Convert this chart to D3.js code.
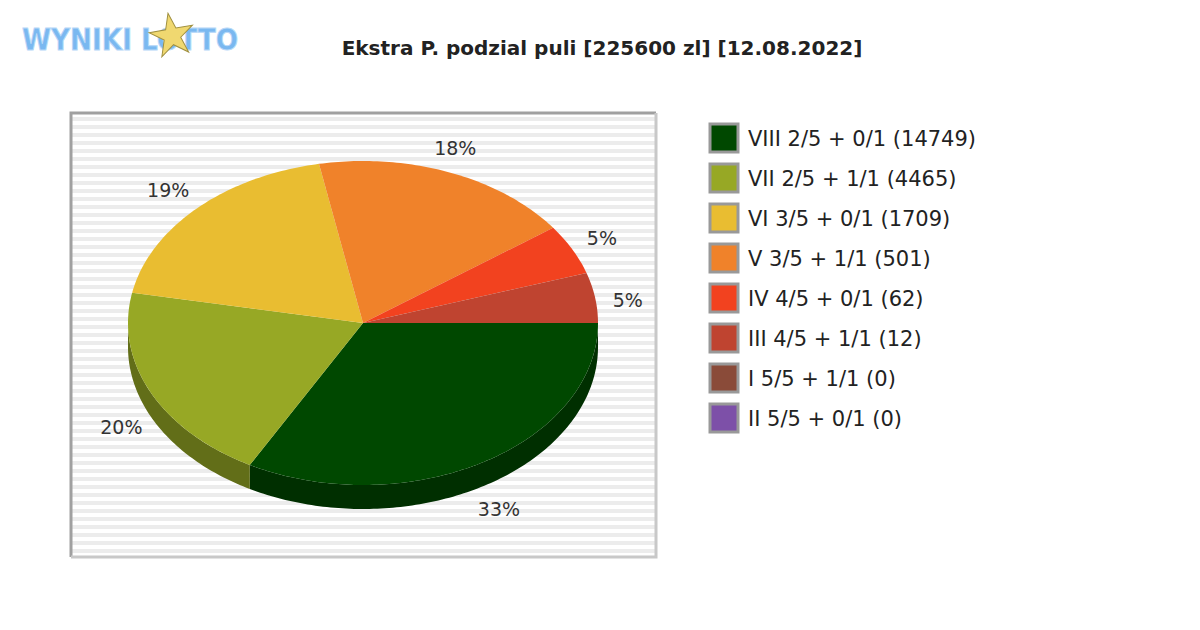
<!DOCTYPE html>
<html><head><meta charset="utf-8">
<script src="https://cdn.jsdelivr.net/npm/d3@7"></script>
<style>body{margin:0;background:#fff}</style></head>
<body><svg id="c" width="1200" height="630"></svg>
<script>
const categories=["VIII 2/5 + 0/1 (14749)","VII 2/5 + 1/1 (4465)","VI 3/5 + 0/1 (1709)","V 3/5 + 1/1 (501)","IV 4/5 + 0/1 (62)","III 4/5 + 1/1 (12)","I 5/5 + 1/1 (0)","II 5/5 + 0/1 (0)"];
const shares=[33,20,19,18,5,5,0,0];
const colors=["#004800","#97a825","#e9bd31","#f0822a","#f2421f","#bf4430","#8a4b39","#7d50a8"];
const title="Ekstra P. podzial puli [225600 zl] [12.08.2022]";

const svg=d3.select("#c");
const F="DejaVu Sans";
const lg=svg.append("g");
lg.append("text").attr("x",22).attr("y",50).attr("font-family",F).attr("font-weight","bold").attr("font-size",30)
 .attr("fill","#7ab8f0").attr("stroke","#b8d8f8").attr("stroke-width",1).attr("textLength",216).attr("lengthAdjust","spacingAndGlyphs").text("WYNIKI LOTTO");
lg.append("path").attr("d",d3.symbol(d3.symbolStar,600)()).attr("transform","translate(172,36) rotate(-10)").attr("fill","#f0d870").attr("stroke","#a09040");
svg.append("text").attr("x",602).attr("y",55).attr("text-anchor","middle").attr("font-family",F).attr("font-weight","bold").attr("font-size",20).attr("fill","#222").text(title);
const x0=71,y0=113,x1=656,y1=557;
svg.append("rect").attr("x",x0).attr("y",y0).attr("width",x1-x0).attr("height",y1-y0).attr("fill","#fff");
for(let y=y0+4;y<y1;y+=8) svg.append("rect").attr("x",x0).attr("y",y).attr("width",x1-x0).attr("height",4).attr("fill","#ececec");
svg.append("path").attr("d",`M${x0},${y1}V${y0}H${x1}`).attr("fill","none").attr("stroke","#a0a0a0").attr("stroke-width",3);
svg.append("path").attr("d",`M${x1},${y0}V${y1}H${x0}`).attr("fill","none").attr("stroke","#c8c8c8").attr("stroke-width",3);

const cx=363,cy=323,rx=235,ry=162,depth=24;
const pie=d3.pie().sort(null).startAngle(0).endAngle(2*Math.PI)(shares);
const P=(t,dy=0)=>[cx+rx*Math.cos(t),cy+ry*Math.sin(t)+dy];
function arcPts(a,b,dy){const n=Math.max(2,Math.ceil((b-a)*60));return d3.range(n+1).map(i=>P(a+(b-a)*i/n,dy));}
const g=svg.append("g");
pie.forEach((d,i)=>{
  const a=Math.max(d.startAngle,0),b=Math.min(d.endAngle,Math.PI);
  if(b<=a) return;
  const top=arcPts(a,b,0),bot=arcPts(a,b,depth).reverse();
  g.append("path").attr("d","M"+top.concat(bot).map(p=>p.join(",")).join("L")+"Z")
   .attr("fill",d3.color(colors[i]).darker(1.2));
});
pie.forEach((d,i)=>{
  if(d.endAngle<=d.startAngle) return;
  const pts=[[cx,cy]].concat(arcPts(d.startAngle,d.endAngle,0));
  g.append("path").attr("d","M"+pts.map(p=>p.join(",")).join("L")+"Z").attr("fill",colors[i]);
});
pie.forEach((d,i)=>{
  if(!shares[i]) return;
  const m=(d.startAngle+d.endAngle)/2;
  const c=Math.cos(m),s=Math.sin(m);
  const lx=cx+(rx+32)*c-(s<0?6:0)+(c>0.8?7:0), ly=cy+(ry+26)*s+(s>0?depth:0)+7+(c>0.9?6:0);
  svg.append("text").attr("x",lx).attr("y",ly).attr("text-anchor","middle").attr("font-family",F).attr("font-size",19).attr("fill","#333").text(shares[i]+"%");
});
categories.forEach((c,i)=>{
  const y=124+i*40;
  svg.append("rect").attr("x",710).attr("y",y).attr("width",28).attr("height",28).attr("fill",colors[i]).attr("stroke","#999").attr("stroke-width",3);
  svg.append("text").attr("x",748).attr("y",y+22).attr("font-family",F).attr("font-size",21).attr("fill","#222").text(c);
});
</script></body></html>
